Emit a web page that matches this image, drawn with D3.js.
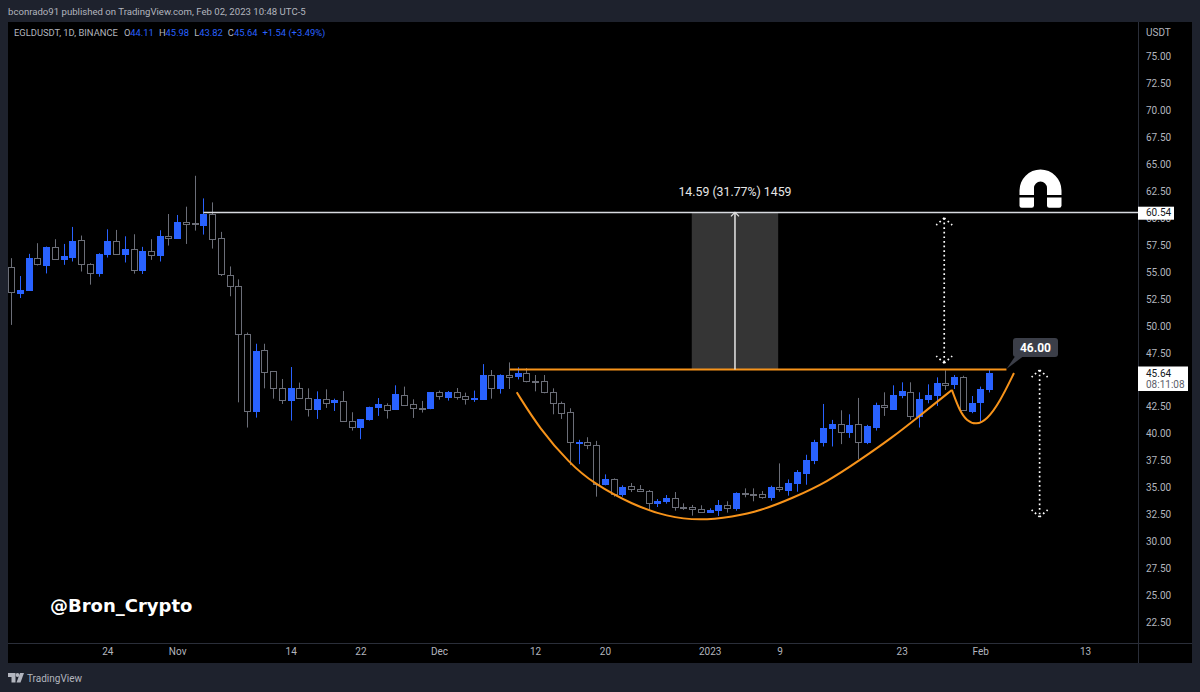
<!DOCTYPE html>
<html>
<head>
<meta charset="utf-8">
<script src="https://cdn.jsdelivr.net/npm/d3@7"></script>
<style>
  html, body { margin: 0; padding: 0; background: #1e222d; overflow: hidden; }
  svg { display: block; }
  text { font-family: Roboto, sans-serif; }
  .axis path, .axis line { display: none; }
</style>
</head>
<body>
<svg id="chart" width="1200" height="692"></svg>
<script>
// Daily EGLD/USDT candles, 13 Oct 2022 to 2 Feb 2023
const opens = [
  55.45,53.09,53.27,56.32,55.70,57.34,56.19,56.44,57.98,55.73,
  54.88,56.66,57.86,56.66,57.12,55.21,56.97,56.60,58.39,58.20,
  59.68,59.53,59.44,60.42,58.14,54.76,53.74,49.26,42.13,47.75,
  45.78,44.26,43.12,44.26,43.34,42.32,43.24,42.90,43.00,41.15,
  40.56,41.30,42.41,42.69,42.26,43.58,42.72,42.38,42.32,43.83,
  43.43,43.89,43.46,43.18,43.18,45.44,44.23,45.44,45.28,45.59,
  44.85,44.85,43.89,42.87,41.98,39.20,39.20,38.92,35.31,35.81,
  34.45,35.10,34.85,34.70,33.58,33.71,33.99,33.21,33.15,33.03,
  32.75,32.91,33.40,33.09,34.45,34.42,34.36,34.08,35.00,34.82,
  35.44,36.36,37.53,39.17,40.50,40.87,40.13,40.87,39.17,40.65,
  42.63,42.32,43.58,43.89,41.64,43.24,43.58,44.69,44.54,45.22,
  42.10,42.87,44.11];
const highs = [
  56.29,54.63,56.69,57.68,57.37,58.05,57.61,59.19,58.39,55.82,
  56.75,58.97,58.91,58.32,58.51,57.34,58.05,58.88,60.39,60.30,
  61.07,63.94,61.84,61.47,58.73,55.52,54.32,49.38,48.34,48.34,
  45.81,45.07,46.18,44.73,44.20,43.92,44.11,43.24,43.95,41.98,
  41.33,42.50,43.30,42.81,44.48,44.36,43.18,43.03,43.86,43.99,
  43.95,44.23,43.80,43.99,46.45,45.90,45.50,46.61,46.15,46.08,
  45.44,45.44,44.20,42.97,42.35,39.42,39.66,39.32,36.21,35.84,
  35.19,35.41,35.22,34.76,33.92,34.29,34.57,33.52,33.37,33.34,
  33.06,33.83,33.71,34.54,34.91,34.91,34.66,35.16,37.23,35.74,
  36.61,38.03,39.42,42.75,41.27,42.16,41.79,43.31,40.81,42.87,
  43.83,44.48,44.76,44.76,43.83,44.57,45.22,45.87,45.44,45.37,
  43.49,44.36,45.98];
const lows = [
  50.09,52.59,53.27,55.61,54.87,56.19,55.67,55.98,55.05,53.83,
  54.57,56.35,56.60,55.89,54.85,54.82,56.13,55.98,57.46,58.17,
  57.61,58.85,58.48,57.18,54.63,52.75,42.90,40.56,41.48,44.20,
  43.24,42.75,41.21,43.24,41.58,41.36,42.38,42.10,41.11,40.28,
  39.48,41.21,41.64,41.39,42.20,42.66,41.45,41.95,42.26,43.15,
  43.06,43.15,42.69,42.94,43.12,43.24,43.71,44.14,45.03,44.76,
  43.92,43.74,41.79,41.36,37.07,37.16,38.55,34.14,35.19,34.14,
  34.14,34.57,34.60,32.91,33.18,33.49,32.84,32.91,32.38,32.69,
  32.66,32.35,32.66,32.84,34.08,33.71,33.95,33.77,34.60,34.23,
  34.60,35.25,37.16,38.80,38.80,39.02,39.60,37.63,39.02,40.28,
  41.64,42.20,43.28,41.27,40.56,42.81,42.57,44.05,44.14,42.13,
  41.89,41.11,43.82];
const closes = [
  53.12,53.33,56.26,55.79,57.34,56.23,56.47,57.92,55.73,54.88,
  56.69,57.86,56.66,57.12,55.21,56.97,56.60,58.36,58.20,59.68,
  59.53,59.47,60.42,58.14,54.76,53.74,49.26,42.13,47.66,45.68,
  44.23,43.12,44.26,43.34,42.32,43.24,42.90,43.09,41.15,40.56,
  41.33,42.44,42.72,42.20,43.68,42.69,42.32,42.32,43.83,43.43,
  43.89,43.43,43.15,43.28,45.44,44.26,45.44,45.28,45.59,44.82,
  44.79,43.86,42.84,41.98,39.17,39.26,38.89,35.34,35.81,34.45,
  35.07,34.82,34.70,33.62,33.74,33.99,33.15,33.15,33.00,32.78,
  32.94,33.40,33.09,34.45,34.39,34.36,34.08,35.00,34.82,35.44,
  36.42,37.57,39.23,40.50,40.90,40.13,40.81,39.20,40.68,42.66,
  42.41,43.58,43.95,41.67,43.24,43.58,44.66,44.54,45.22,42.13,
  42.87,44.10,45.64];

// Price axis ticks; the 45.00 tick sits under the last-price tag and is left out
const priceTicks = [22.5,25,27.5,30,32.5,35,37.5,40,42.5,47.5,50,52.5,55,57.5,60,62.5,65,67.5,70,72.5,75];

// Time axis: bar index and its label
const timeTickBars = [11,19,32,40,49,60,68,80,88,102,111,123];
const timeTickLabels = ["24","Nov","14","22","Dec","12","20","2023","9","23","Feb","13"];

// Drawn levels
const targetPrice = 60.54;
const necklinePrice = 46.00;
const lastPrice = 45.64;
const measureMove = 14.59;
const measureBars = [77.95, 87.85];
const targetLineStartBar = 22;
const necklineBars = [57.1, 114];

// Cup and handle curves, as bar index and price
const cupBars =   [57.9,  60.5,  63.96, 66.63, 71.21, 75.1,  78.9,  82.66, 85.76, 89.54, 93.44, 97.2,  101,   103.75,107.75];
const cupPrices = [43.83, 40.47, 37.23, 35.40, 33.37, 32.28, 31.91, 32.28, 32.81, 34.02, 35.50, 37.53, 39.69, 41.45, 44.05];
const handleBars =   [107.75, 108.67, 109.47, 110.5, 111.76, 113.25, 114.86];
const handlePrices = [44.05,  42.04,  41.18,  40.81, 41.27,  42.96,  45.62];

// Dotted double-headed arrows
const arrowBars = [106.87, 117.8];
const arrowTops = [60.02, 45.90];
const arrowBottoms = [46.55, 32.26];

const COLORS = {
  frame: "#1e222d", pane: "#000000", sep: "#2a2e39", up: "#2962ff",
  down: "#6b6e78", text: "#b2b5be", orange: "#f7931a", white: "#d8dae0"
};

const svg = d3.select("#chart");
const x = d3.scaleLinear().domain([0, 112]).range([11.3, 989]);
const y = d3.scaleLinear().domain([75, 22.5]).range([56.7, 622]);
const pane = { left: 8, top: 22, right: 1138, bottom: 643, axisRight: 1192, axisBottom: 663 };
const crisp = v => Math.round(v) + 0.5;

// Frame and panes
svg.append("rect").attr("width", 1200).attr("height", 692).attr("fill", COLORS.frame);
svg.append("rect").attr("x", pane.left).attr("y", pane.top)
  .attr("width", pane.axisRight - pane.left).attr("height", pane.axisBottom - pane.top).attr("fill", COLORS.pane);
svg.append("line").attr("x1", pane.right + .5).attr("x2", pane.right + .5).attr("y1", pane.top).attr("y2", pane.axisBottom).attr("stroke", COLORS.sep);
svg.append("line").attr("x1", pane.left).attr("x2", pane.axisRight).attr("y1", pane.bottom + .5).attr("y2", pane.bottom + .5).attr("stroke", COLORS.sep);

// Axes
const yAxis = svg.append("g").attr("class", "axis").attr("transform", `translate(${pane.right},0)`)
  .call(d3.axisRight(y).tickValues(priceTicks).tickFormat(d3.format(".2f")).tickSize(0).tickPadding(8));
yAxis.selectAll("text").attr("fill", COLORS.text).attr("font-size", 10);

const xAxis = svg.append("g").attr("class", "axis").attr("transform", `translate(0,${pane.bottom})`)
  .call(d3.axisBottom(x).tickValues(timeTickBars).tickFormat((d, i) => timeTickLabels[i]).tickSize(0).tickPadding(5));
xAxis.selectAll("text").attr("fill", COLORS.text).attr("font-size", 10);

svg.append("text").attr("x", 1146).attr("y", 36).attr("fill", COLORS.text).attr("font-size", 10).text("USDT");

// Measuring box behind the candles
const measureBottom = targetPrice - measureMove;
svg.append("rect")
  .attr("x", x(measureBars[0])).attr("width", x(measureBars[1]) - x(measureBars[0]))
  .attr("y", y(targetPrice)).attr("height", y(measureBottom) - y(targetPrice))
  .attr("fill", "#353535");

// Candles
const candles = d3.range(opens.length).map(i => ({ i, o: opens[i], h: highs[i], l: lows[i], c: closes[i], up: closes[i] >= opens[i] }));
const candleG = svg.append("g").selectAll("g").data(candles).join("g");
candleG.append("line")
  .attr("x1", d => crisp(x(d.i))).attr("x2", d => crisp(x(d.i)))
  .attr("y1", d => y(d.h)).attr("y2", d => y(d.l))
  .attr("stroke", d => d.up ? COLORS.up : COLORS.down).attr("stroke-width", 1);
candleG.append("rect")
  .attr("x", d => crisp(x(d.i)) - 3).attr("width", 6)
  .attr("y", d => crisp(y(Math.max(d.o, d.c))))
  .attr("height", d => Math.max(1, Math.round(Math.abs(y(d.o) - y(d.c)))))
  .attr("fill", d => d.up ? COLORS.up : COLORS.pane)
  .attr("stroke", d => d.up ? COLORS.up : COLORS.down).attr("stroke-width", 1);

// Target level
svg.append("line").attr("x1", x(targetLineStartBar)).attr("x2", pane.right)
  .attr("y1", y(targetPrice)).attr("y2", y(targetPrice))
  .attr("stroke", COLORS.white).attr("stroke-width", 1.5);

// Measure base line sits just above the neckline
const mid = (measureBars[0] + measureBars[1]) / 2;
svg.append("line").attr("x1", x(measureBars[0])).attr("x2", x(measureBars[1]))
  .attr("y1", y(measureBottom)).attr("y2", y(measureBottom)).attr("stroke", "#e8dcc0").attr("stroke-width", 1);

// Neckline
svg.append("line").attr("x1", x(necklineBars[0])).attr("x2", x(necklineBars[1]))
  .attr("y1", y(necklinePrice) + 0.5).attr("y2", y(necklinePrice) + 0.5)
  .attr("stroke", COLORS.orange).attr("stroke-width", 2);

// Measure arrow and readout
svg.append("line").attr("x1", x(mid)).attr("x2", x(mid)).attr("y1", y(measureBottom)).attr("y2", y(targetPrice))
  .attr("stroke", "#e6e6e6").attr("stroke-width", 1.5);
svg.append("path")
  .attr("d", `M${x(mid) - 4},${y(targetPrice) + 4}L${x(mid)},${y(targetPrice)}L${x(mid) + 4},${y(targetPrice) + 4}`)
  .attr("fill", "none").attr("stroke", "#e6e6e6").attr("stroke-width", 1.2);
svg.append("text").attr("x", x(mid)).attr("y", 196).attr("text-anchor", "middle")
  .attr("fill", "#e6e6e6").attr("font-size", 12.3)
  .text(`${measureMove.toFixed(2)} (31.77%) 1459`);

// Cup and handle
const curve = d3.line().x(d => x(d[0])).y(d => y(d[1])).curve(d3.curveBasis);
[[cupBars, cupPrices], [handleBars, handlePrices]].forEach(([bars, prices]) => {
  svg.append("path").attr("d", curve(d3.zip(bars, prices)))
    .attr("fill", "none").attr("stroke", COLORS.orange).attr("stroke-width", 2);
});

// Dotted arrows with a head at each end
arrowBars.forEach((b, i) => {
  const cx = x(b), top = y(arrowTops[i]), bot = y(arrowBottoms[i]);
  const g = svg.append("g").attr("fill", "none").attr("stroke", "#ffffff").attr("stroke-width", 1.7).attr("stroke-dasharray", "1.7 2.9");
  g.append("line").attr("x1", cx).attr("x2", cx).attr("y1", top).attr("y2", bot);
  g.append("path").attr("d", `M${cx},${top}L${cx - 8},${top + 7}`);
  g.append("path").attr("d", `M${cx},${top}L${cx + 8},${top + 7}`);
  g.append("path").attr("d", `M${cx},${bot}L${cx - 8},${bot - 7}`);
  g.append("path").attr("d", `M${cx},${bot}L${cx + 8},${bot - 7}`);
});

// Callout on the neckline
const calloutX = x(necklineBars[1]), calloutY = y(necklinePrice);
svg.append("path").attr("d", `M${calloutX},${calloutY}L1016,355L1025,355Z`).attr("fill", "#3b3e48");
svg.append("rect").attr("x", 1013).attr("y", 338).attr("width", 45).attr("height", 19).attr("rx", 3).attr("fill", "#3b3e48");
svg.append("text").attr("x", 1035.5).attr("y", 352).attr("text-anchor", "middle")
  .attr("fill", "#ffffff").attr("font-size", 12).attr("font-weight", 700).text(necklinePrice.toFixed(2));

// Magnet glyph
const magnet = svg.append("g").attr("fill", "#ffffff");
magnet.append("path").attr("d", "M1019.5,195V190.5A21,21 0 0 1 1061.5,190.5V195H1047V188A6.5,6.5 0 0 0 1034,188V195Z");
magnet.append("path").attr("d", "M1019.5,197.5H1034V205.5A2.2,2.2 0 0 1 1031.8,207.7H1021.7A2.2,2.2 0 0 1 1019.5,205.5Z");
magnet.append("path").attr("d", "M1047,197.5H1061.5V205.5A2.2,2.2 0 0 1 1059.3,207.7H1049.2A2.2,2.2 0 0 1 1047,205.5Z");

// Price tags on the axis
svg.append("rect").attr("x", pane.right).attr("y", 206.7).attr("width", 36).attr("height", 13).attr("fill", "#ffffff");
svg.append("text").attr("x", 1146).attr("y", y(targetPrice) + 4).attr("fill", "#131722").attr("font-size", 10).text(targetPrice.toFixed(2));
svg.append("rect").attr("x", pane.right).attr("y", 366.5).attr("width", 50).attr("height", 24.5).attr("fill", "#ffffff");
svg.append("text").attr("x", 1146).attr("y", 377).attr("fill", "#131722").attr("font-size", 10).text(lastPrice.toFixed(2));
svg.append("text").attr("x", 1146).attr("y", 388).attr("fill", "#5d606b").attr("font-size", 10).text("08:11:08");

// Header and legend
svg.append("text").attr("x", 8).attr("y", 15).attr("fill", COLORS.text).attr("font-size", 9.6)
  .text("bconrado91 published on TradingView.com, Feb 02, 2023 10:48 UTC-5");
const legend = svg.append("text").attr("x", 14).attr("y", 36).attr("font-size", 9.4).attr("fill", COLORS.text);
legend.append("tspan").text("EGLDUSDT, 1D, BINANCE");
[["O", opens], ["H", highs], ["L", lows], ["C", closes]].forEach(([k, arr], i) => {
  legend.append("tspan").attr("dx", i === 0 ? 6 : 5).text(k);
  legend.append("tspan").attr("fill", COLORS.up).text(arr[arr.length - 1].toFixed(2));
});
legend.append("tspan").attr("dx", 5).attr("fill", COLORS.up).text("+1.54 (+3.49%)");

// Author handle
svg.append("text").attr("x", 50).attr("y", 611.7).attr("fill", "#ffffff").attr("font-size", 18).attr("font-weight", 700)
  .style("font-family", "'DejaVu Sans', sans-serif").text("@Bron_Crypto");

// Footer wordmark
const logo = svg.append("g").attr("fill", "#b2b5be");
logo.append("path").attr("d", "M8,673H15.5V682.5H11.5V677H8Z");
logo.append("circle").attr("cx", 17.5).attr("cy", 675).attr("r", 1.9);
logo.append("path").attr("d", "M20,673H24L20.5,682.5H16.5Z");
svg.append("text").attr("x", 27).attr("y", 682).attr("fill", "#b2b5be").attr("font-size", 10).text("TradingView");
</script>
</body>
</html>
